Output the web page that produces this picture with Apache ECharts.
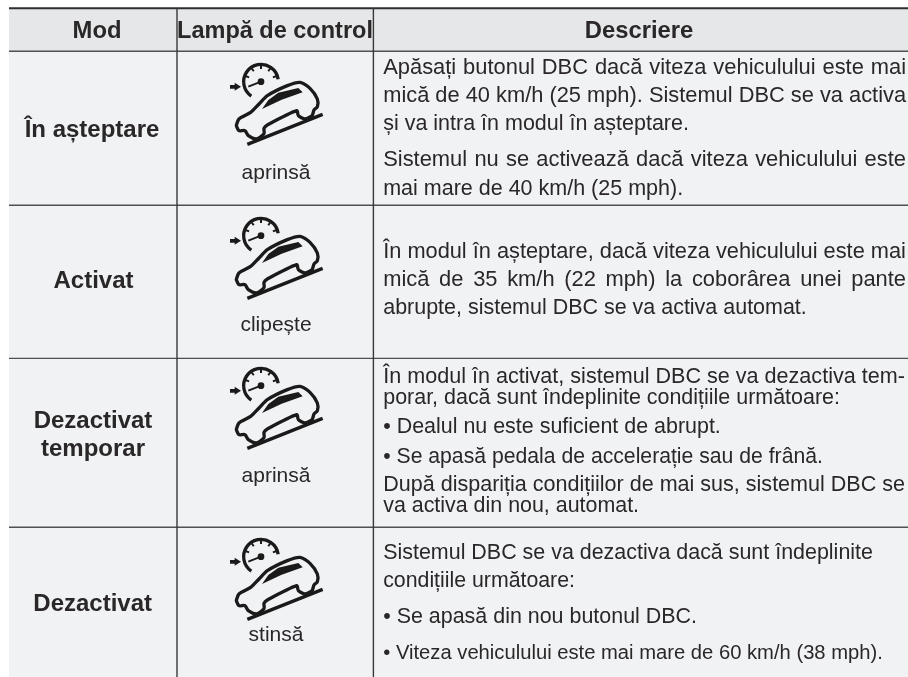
<!DOCTYPE html>
<html>
<head>
<meta charset="utf-8">
<style>html,body{margin:0;padding:0;background:#fff}#c{width:908px;height:677px}</style>
<script src="https://cdn.jsdelivr.net/npm/echarts@6/dist/echarts.min.js"></script>
</head>
<body>
<div id="c"></div>
<script>
// ---- content ----
const headers = ['Mod', 'Lampă de control', 'Descriere'];
const modes = [['În așteptare'], ['Activat'], ['Dezactivat', 'temporar'], ['Dezactivat']];
const lampStates = ['aprinsă', 'clipește', 'aprinsă', 'stinsă'];
const descriptions1 = [
  'Apăsați butonul DBC dacă viteza vehiculului este mai',
  'mică de 40 km/h (25 mph). Sistemul DBC se va activa',
  'și va intra în modul în așteptare.',
  'Sistemul nu se activează dacă viteza vehiculului este',
  'mai mare de 40 km/h (25 mph).'
];
const descriptions2 = [
  'În modul în așteptare, dacă viteza vehiculului este mai',
  'mică de 35 km/h (22 mph) la coborârea unei pante',
  'abrupte, sistemul DBC se va activa automat.'
];
const descriptions3 = [
  'În modul în activat, sistemul DBC se va dezactiva tem-',
  'porar, dacă sunt îndeplinite condițiile următoare:',
  '• Dealul nu este suficient de abrupt.',
  '• Se apasă pedala de accelerație sau de frână.',
  'După dispariția condițiilor de mai sus, sistemul DBC se',
  'va activa din nou, automat.'
];
const descriptions4 = [
  'Sistemul DBC se va dezactiva dacă sunt îndeplinite',
  'condițiile următoare:',
  '• Se apasă din nou butonul DBC.',
  '• Viteza vehiculului este mai mare de 60 km/h (38 mph).'
];

// ---- layout ----
const FONT = '"Liberation Sans", Arial, sans-serif';
const INK = '#2a2728';
const descLayout = [
  {base: [76, 104, 132, 168, 197], end: [906, 906, 689, 906, 683], just: [1, 1, 0, 1, 0]},
  {base: [260, 288, 316], end: [906, 906, 807], just: [1, 1, 0]},
  {base: [385, 406, 435, 464, 493, 514], end: [905, 840, 721, 823, 905, 639], just: [1, 0, 0, 0, 1, 0]},
  {base: [561, 589, 625, 660], end: [873, 575, 697, 883], just: [0, 0, 0, 0]}
];
const allDesc = [descriptions1, descriptions2, descriptions3, descriptions4];
const modeBase = [[138.5], [289.5], [429.5, 457.5], [612.5]];
const modeCx = [92, 93.5, 93, 92.7];
const lampBase = [180, 332, 483, 642];
const iconDy = [0, 154, 304, 475];
const headBase = 39.5;

const cv = document.createElement('canvas').getContext('2d');
function w(s, fs) { cv.font = fs + 'px ' + FONT; return cv.measureText(s).width; }
function txt(s, x, base, fs, align, bold, fill) {
  return {type: 'text', silent: true, z: 5, style: {
    text: s, x: x, y: base - 0.3465 * fs, fill: fill || INK,
    font: (bold ? 'bold ' : '') + fs + 'px ' + FONT, align: align, verticalAlign: 'middle'
  }};
}
function hLine(y, h, c) { return {type: 'rect', z: 3, silent: true, shape: {x: 9, y: y, width: 899, height: h}, style: {fill: c}}; }
function vLine(x) { return {type: 'rect', z: 4, silent: true, shape: {x: x, y: 8, width: 1.4, height: 669}, style: {fill: '#38383a'}}; }

const stroke = {stroke: '#1b1a1b', lineWidth: 10, fill: null, lineCap: 'round', lineJoin: 'round'};
const carOutline = [[79,212],[87,192],[122,172],[147,147],[172,122],[232,92],[270,82],[300,100],[322,132],[322,155],[312,165],[306,182],[285,192],[265,182],[260,167],[172,210],[162,220],[162,236],[140,252],[115,242],[105,227],[87,227],[79,212]];
const carWindow = [[156,162],[175,135],[205,113],[265,99],[278,112],[215,134]];
const arrowShape = [[60,90],[74,90],[74,83],[93,95],[74,107],[74,101],[60,101]];
const tickAngles = [200, 235, 270, 305, 340];

function icon(dy) {
  const ch = [];
  ch.push({type: 'line', shape: {x1: 112, y1: 268, x2: 338, y2: 178}, style: Object.assign({}, stroke, {lineCap: 'butt'})});
  ch.push({type: 'polyline', shape: {points: carOutline, smooth: 0.25}, style: stroke});
  ch.push({type: 'polygon', shape: {points: carWindow}, style: {fill: '#1b1a1b'}});
  ch.push({type: 'arc', shape: {cx: 153, cy: 80, r: 52, startAngle: 124 * Math.PI / 180, endAngle: 352 * Math.PI / 180, clockwise: true}, style: Object.assign({}, stroke, {lineCap: 'butt'})});
  tickAngles.forEach(function (a) {
    const r = a * Math.PI / 180;
    ch.push({type: 'line', shape: {x1: 153 + 52 * Math.cos(r), y1: 80 + 52 * Math.sin(r), x2: 153 + 38 * Math.cos(r), y2: 80 + 38 * Math.sin(r)}, style: {stroke: '#1b1a1b', lineWidth: 6}});
  });
  ch.push({type: 'line', shape: {x1: 153, y1: 80, x2: 115, y2: 95}, style: {stroke: '#1b1a1b', lineWidth: 6}});
  ch.push({type: 'circle', shape: {cx: 153, cy: 80, r: 10}, style: {fill: '#1b1a1b'}});
  ch.push({type: 'polygon', shape: {points: arrowShape}, style: {fill: '#1b1a1b'}});
  ch.forEach(function (c) { c.z = 5; c.silent = true; });
  return {type: 'group', x: 210, y: 55 + dy, scaleX: 1 / 3, scaleY: 1 / 3, silent: true, children: ch};
}

const els = [];
els.push({type: 'rect', z: 1, silent: true, shape: {x: 9, y: 9, width: 899, height: 42}, style: {fill: '#e6e7e9'}});
els.push({type: 'rect', z: 1, silent: true, shape: {x: 9, y: 51, width: 899, height: 626}, style: {fill: '#f1f2f4'}});
els.push(hLine(7.3, 2, '#2e2e30'), hLine(50.5, 1.4, '#505052'), hLine(204.5, 1.4, '#505052'), hLine(357.7, 1.4, '#505052'), hLine(526.6, 1.4, '#505052'));
els.push(vLine(176.3), vLine(372.7));

els.push(txt(headers[0], 97, headBase, 23.8, 'center', true));
els.push(txt(headers[1], 275, headBase, 23.5, 'center', true));
els.push(txt(headers[2], 639, headBase, 23.8, 'center', true));

modes.forEach(function (lines, i) {
  lines.forEach(function (s, j) { els.push(txt(s, modeCx[i], modeBase[i][j], 24, 'center', true)); });
  els.push(txt(lampStates[i], 276, lampBase[i], 21, 'center', false));
  els.push(icon(iconDy[i]));
  allDesc[i].forEach(function (s, j) {
    const L = descLayout[i], x0 = 383.2, target = L.end[j] - x0, base = 21.9;
    const nat = w(s, base);
    if (L.just[j] && nat < target) {
      const words = s.split(' ');
      let sum = 0;
      words.forEach(function (t) { sum += w(t, base); });
      const gap = (target - sum) / (words.length - 1);
      let x = x0;
      words.forEach(function (t) {
        els.push(txt(t, x, L.base[j], base, 'left', false));
        x += w(t, base) + gap;
      });
    } else {
      els.push(txt(s, x0, L.base[j], base * target / nat, 'left', false));
    }
  });
});

const chart = echarts.init(document.getElementById('c'), null, {renderer: 'canvas'});
chart.setOption({animation: false, backgroundColor: '#ffffff', graphic: {elements: els}});
</script>
</body>
</html>
